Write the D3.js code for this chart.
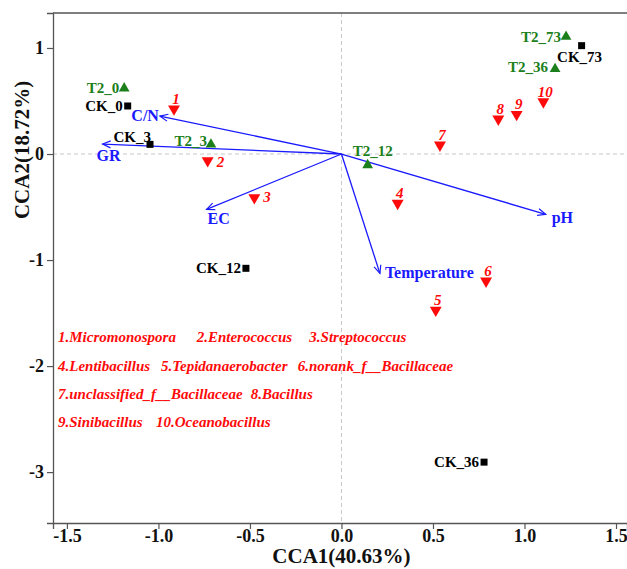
<!DOCTYPE html>
<html>
<head>
<meta charset="utf-8">
<script src="https://cdn.jsdelivr.net/npm/d3@7"></script>
<style>
  html, body { margin: 0; padding: 0; background: #fff; }
  svg { display: block; font-family: "Liberation Serif", "Times New Roman", serif; }
</style>
</head>
<body>
<svg id="chart" width="627" height="569"></svg>
<script>
// ---- data ----
const ckNames = ["CK_0", "CK_3", "CK_12", "CK_36", "CK_73"];
const ckX = [-1.168, -1.046, -0.522, 0.779, 1.312];
const ckY = [0.453, 0.091, -1.078, -2.906, 1.022];

const t2Names = ["T2_0", "T2_3", "T2_12", "T2_36", "T2_73"];
const t2X = [-1.187, -0.713, 0.143, 1.167, 1.227];
const t2Y = [0.620, 0.091, -0.104, 0.802, 1.107];

const speciesIds = ["1", "2", "3", "4", "5", "6", "7", "8", "9", "10"];
const speciesX = [-0.915, -0.731, -0.476, 0.307, 0.515, 0.790, 0.538, 0.857, 0.957, 1.103];
const speciesY = [0.425, -0.063, -0.412, -0.465, -1.472, -1.198, 0.085, 0.330, 0.374, 0.493];

const envNames = ["C/N", "GR", "EC", "pH", "Temperature"];
const envX = [-0.992, -1.305, -0.737, 1.116, 0.210];
const envY = [0.358, 0.094, -0.522, -0.569, -1.126];

const speciesNames = ["Micromonospora", "Enterococcus", "Streptococcus", "Lentibacillus",
  "Tepidanaerobacter", "norank_f__Bacillaceae", "unclassified_f__Bacillaceae", "Bacillus",
  "Sinibacillus", "Oceanobacillus"];

const xTicks = [-1.5, -1.0, -0.5, 0.0, 0.5, 1.0, 1.5];
const yTicks = [-3, -2, -1, 0, 1];
const xTitle = "CCA1(40.63%)";
const yTitle = "CCA2(18.72%)";

// ---- layout / style ----
const svg = d3.select("#chart");
const x = d3.scaleLinear().domain([-1.576, 1.56]).range([53, 627]);
const y = d3.scaleLinear().domain([-3.48, 1.33]).range([523, 13]);
const AXC = "#555";
const GREEN = "#1b801b", RED = "#ff0a0a", BLUE = "#1a1aff";

// dashed zero lines
svg.append("line").attr("x1", x(0)).attr("x2", x(0)).attr("y1", y.range()[1]).attr("y2", y.range()[0])
  .attr("stroke", "#c8c8c8").attr("stroke-dasharray", "4,3").attr("stroke-width", 1);
svg.append("line").attr("x1", x.range()[0]).attr("x2", x.range()[1]).attr("y1", y(0)).attr("y2", y(0))
  .attr("stroke", "#c8c8c8").attr("stroke-dasharray", "4,3").attr("stroke-width", 1);

// top border
svg.append("line").attr("x1", x.range()[0]).attr("x2", x.range()[1]).attr("y1", y.range()[1]).attr("y2", y.range()[1])
  .attr("stroke", AXC).attr("stroke-width", 1.3);

// axes
const xAxis = svg.append("g").attr("transform", `translate(0,${y.range()[0]})`)
  .call(d3.axisBottom(x).tickValues(xTicks).tickSizeOuter(0).tickSize(6).tickFormat(d => d.toFixed(1)));
xAxis.selectAll("text").attr("y", 6).attr("dy", "0.71em");
const yAxis = svg.append("g").attr("transform", `translate(${x.range()[0]},0)`)
  .call(d3.axisLeft(y).tickValues(yTicks).tickSizeOuter(0).tickSize(6).tickFormat(d => String(d)));
[xAxis, yAxis].forEach(g => {
  g.select(".domain").attr("stroke", AXC).attr("stroke-width", 1.3);
  g.selectAll(".tick line").attr("stroke", AXC).attr("stroke-width", 1.2);
  g.selectAll("text").attr("fill", "#111").style("font-size", "18px").style("font-weight", "bold")
    .style("font-family", "'Liberation Serif', serif");
});

// axis titles
svg.append("text").attr("x", x(0)).attr("y", 563).attr("text-anchor", "middle")
  .style("font-size", "21px").style("font-weight", "bold").attr("fill", "#111").text(xTitle);
svg.append("text").attr("transform", "translate(29,150) rotate(-90)").attr("text-anchor", "middle")
  .style("font-size", "21px").style("font-weight", "bold").attr("fill", "#111").text(yTitle);

// arrows
const defs = svg.append("defs");
defs.append("marker").attr("id", "arr").attr("viewBox", "-10 -5 12 10")
  .attr("refX", 0).attr("refY", 0).attr("markerWidth", 12).attr("markerHeight", 10)
  .attr("markerUnits", "userSpaceOnUse").attr("orient", "auto")
  .append("path").attr("d", "M-8,-3.5 L0,0 L-8,3.5").attr("fill", "none")
  .attr("stroke", BLUE).attr("stroke-width", 1.2);

const envLab = {
  "C/N": { anchor: "end", dx: -1, dy: 5 },
  "GR": { anchor: "start", dx: -6, dy: 17 },
  "EC": { anchor: "start", dx: 1, dy: 15 },
  "pH": { anchor: "start", dx: 6, dy: 9 },
  "Temperature": { anchor: "start", dx: 5, dy: 5 }
};
envNames.forEach((n, i) => {
  svg.append("line").attr("x1", x(0)).attr("y1", y(0)).attr("x2", x(envX[i])).attr("y2", y(envY[i]))
    .attr("stroke", BLUE).attr("stroke-width", 1.3).attr("marker-end", "url(#arr)");
  const o = envLab[n];
  svg.append("text").attr("x", x(envX[i]) + o.dx).attr("y", y(envY[i]) + o.dy)
    .attr("text-anchor", o.anchor).attr("fill", BLUE)
    .style("font-size", "16px").style("font-weight", "bold").text(n);
});

// species (red down triangles)
const triDown = d3.symbol().type(d3.symbolTriangle).size(62);
const spLab = { "2": { dx: 9, dy: 6, a: "start" }, "3": { dx: 9, dy: 4, a: "start" } };
speciesIds.forEach((id, i) => {
  const cx = x(speciesX[i]), cy = y(speciesY[i]);
  svg.append("path").attr("d", triDown()).attr("transform", `translate(${cx},${cy}) rotate(180)`)
    .attr("fill", RED);
  const o = spLab[id] || { dx: 2, dy: -5, a: "middle" };
  svg.append("text").attr("x", cx + o.dx).attr("y", cy + o.dy).attr("text-anchor", o.a)
    .attr("fill", RED).style("font-size", "15px").style("font-weight", "bold").style("font-style", "italic")
    .text(id);
});

// samples
const sampLab = {
  "CK_3": { dx: 1, dy: -2, a: "end" },
  "T2_3": { dx: -4, dy: 2, a: "end" },
  "CK_73": { dx: -2, dy: 16, a: "middle" },
  "T2_12": { dx: 5, dy: -9, a: "middle" },
  "T2_36": { dx: -7, dy: 3, a: "end" }
};
const sq = d3.symbol().type(d3.symbolSquare).size(49);
const tri = d3.symbol().type(d3.symbolTriangle).size(50);
function drawSample(name, vx, vy, sym, color) {
  const cx = x(vx), cy = y(vy);
  const o = sampLab[name] || { dx: -5, dy: 5, a: "end" };
  svg.append("text").attr("x", cx + o.dx).attr("y", cy + o.dy).attr("text-anchor", o.a)
    .attr("fill", color).style("font-size", "15px").style("font-weight", "bold").text(name);
  svg.append("path").attr("d", sym()).attr("transform", `translate(${cx},${cy})`).attr("fill", color);
}
ckNames.forEach((n, i) => drawSample(n, ckX[i], ckY[i], sq, "#000"));
t2Names.forEach((n, i) => drawSample(n, t2X[i], t2Y[i], tri, GREEN));

// species legend
const legendRows = [[0, 1, 2], [3, 4, 5], [6, 7], [8, 9]];
const legendXs = [[58, 196.7, 309.3], [58, 161, 297.7], [58, 250.7], [58, 156]];
const legendYs = [342, 370.5, 398.5, 426.5];
legendRows.forEach((row, r) => {
  row.forEach((k, j) => {
    svg.append("text").attr("x", legendXs[r][j]).attr("y", legendYs[r])
      .attr("fill", RED).style("font-size", "15px").style("font-weight", "bold").style("font-style", "italic")
      .text(`${speciesIds[k]}.${speciesNames[k]}`);
  });
});
</script>
</body>
</html>
